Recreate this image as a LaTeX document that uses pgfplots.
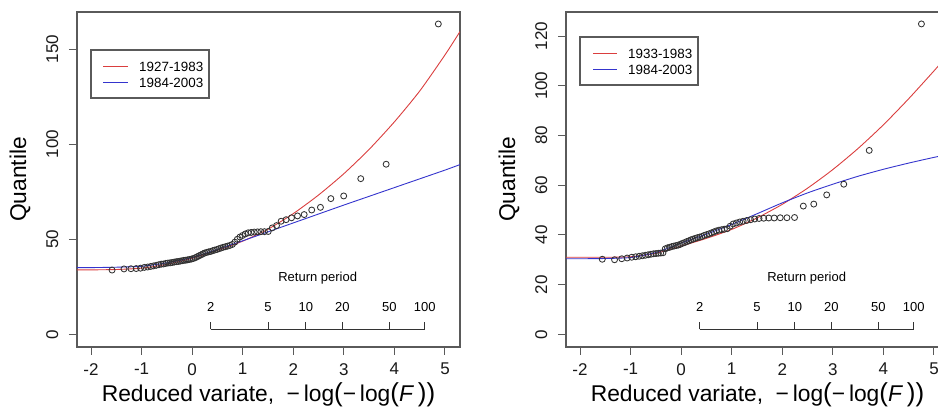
\documentclass[border=0pt]{standalone}
\usepackage{pgfplots}
\pgfplotsset{compat=1.18}
\usepackage{fontspec}
\setmainfont{Liberation Sans}

\definecolor{fitred}{RGB}{218,62,62}
\definecolor{fitblue}{RGB}{52,52,205}
\definecolor{framegray}{RGB}{90,90,90}
\definecolor{ptgray}{RGB}{50,50,50}

% empirical quantiles (Gringorten positions on the Gumbel reduced variate)
\pgfplotstableread{
x y
-1.5835 33.8
-1.3475 34.4
-1.2097 34.5
-1.1061 34.6
-1.0206 34.8
-0.9465 35.2
-0.8801 35.4
-0.8194 35.7
-0.7631 36.0
-0.7103 36.3
-0.6601 36.6
-0.6122 36.9
-0.5662 37.0
-0.5218 37.3
-0.4786 37.5
-0.4366 37.6
-0.3955 37.8
-0.3552 38.0
-0.3156 38.2
-0.2766 38.3
-0.2381 38.5
-0.2000 38.7
-0.1622 38.9
-0.1246 39.0
-0.0871 39.2
-0.0498 39.4
-0.0126 39.6
0.0246 39.9
0.0618 40.3
0.0991 40.8
0.1365 41.3
0.1741 41.8
0.2119 42.3
0.2500 42.8
0.2885 43.1
0.3273 43.4
0.3665 43.6
0.4063 44.0
0.4466 44.3
0.4873 44.6
0.5288 45.0
0.5710 45.4
0.6140 45.8
0.6578 46.1
0.7026 46.4
0.7485 46.8
0.7954 47.3
0.8438 48.5
0.8933 50.0
0.9444 51.2
0.9972 52.0
1.0515 52.8
1.1080 53.4
1.1669 53.6
1.2282 53.8
1.2924 53.9
1.3594 54.0
1.4300 54.0
1.5050 54.1
1.5843 56.0
1.6688 57.2
1.7597 59.5
1.8579 60.3
1.9654 61.3
2.0834 62.3
2.2154 63.0
2.3645 65.4
2.5371 66.8
2.7428 71.4
2.9970 72.8
3.3343 81.9
3.8366 89.5
4.8681 163.3
}\obsA

\pgfplotstableread{
x y
-1.5594 30.2
-1.3169 30.0
-1.1744 30.4
-1.0670 30.7
-0.9779 31.0
-0.9004 31.2
-0.8308 31.4
-0.7670 31.6
-0.7076 31.8
-0.6516 32.0
-0.5984 32.2
-0.5474 32.4
-0.4982 32.5
-0.4505 32.6
-0.4041 32.7
-0.3587 32.8
-0.3142 34.4
-0.2705 34.8
-0.2273 35.0
-0.1847 35.3
-0.1423 35.5
-0.1003 35.7
-0.0583 35.9
-0.0166 36.2
0.0252 36.6
0.0670 36.9
0.1089 37.3
0.1509 37.6
0.1932 38.0
0.2360 38.3
0.2789 38.6
0.3224 38.9
0.3665 39.1
0.4113 39.4
0.4565 39.8
0.5026 40.1
0.5493 40.4
0.5973 40.8
0.6463 41.2
0.6963 41.6
0.7477 41.9
0.8005 42.1
0.8549 42.3
0.9110 42.5
0.9692 43.5
1.0295 44.4
1.0921 44.8
1.1577 45.2
1.2262 45.5
1.2979 45.8
1.3740 46.1
1.4546 46.4
1.5404 46.6
1.6327 46.7
1.7322 46.8
1.8401 46.8
1.9597 46.9
2.0923 46.9
2.2425 47.0
2.4159 51.6
2.6228 52.4
2.8785 56.1
3.2161 60.4
3.7193 74.0
4.7517 124.9
}\obsB

\tikzset{
  rpline/.style={black!80, line width=0.9pt},
  rplabel/.style={font=\fontsize{13}{15}\selectfont},
  tl/.style={font=\fontsize{17}{19}\selectfont, inner sep=0pt, text=black!90},
  xtl/.style={tl, anchor=north, yshift=-16pt},
  ytl/.style={tl, xshift=-18.5pt, rotate=90, anchor=south},
  axlab/.style={font=\fontsize{22.8}{26}\selectfont},
}

\pgfplotsset{
  gumbelaxis/.style={
    anchor=south west, scale only axis, width=383pt, height=335pt,
    xmin=-2.277, xmax=5.297, clip mode=individual,
    axis line style={framegray, line width=1.1pt},
    tick style={framegray, line width=1.0pt},
    tick align=outside, major tick length=8pt,
    xtick pos=bottom, ytick pos=left,
    xtick={-2,-1,0,1,2,3,4,5},
    xticklabels={}, yticklabels={},
  },
  fitline/.style={line width=0.9pt, smooth, tension=0.4},
  obs/.style={only marks, mark=o, mark size=3.0pt, mark options={ptgray, line width=0.85pt}},
}

\newcommand\gumbelframe[1]{%
  % tick labels and axis titles (#1 = lower y limit)
  \node[xtl] at (axis cs:-2,#1) {-2};
  \node[xtl] at (axis cs:-1,#1) {-1};
  \node[xtl] at (axis cs:0,#1) {0};
  \node[xtl] at (axis cs:1,#1) {1};
  \node[xtl] at (axis cs:2,#1) {2};
  \node[xtl] at (axis cs:3,#1) {3};
  \node[xtl] at (axis cs:4,#1) {4};
  \node[xtl] at (axis cs:5,#1) {5};
  \node[axlab, anchor=center, yshift=-48pt] at (axis description cs:0.5,0)
    {Reduced variate,\hspace{0.55em}−\,log{\fontsize{26}{26}\selectfont(}−\,log{\fontsize{26}{26}\selectfont(}\textit{F}\,{\fontsize{26}{26}\selectfont))}};
  \node[axlab, xshift=-57pt, rotate=90, anchor=center] at (axis description cs:0,0.5) {Quantile};
}

\begin{document}
\begin{tikzpicture}[x=1pt, y=1pt]
\clip[use as bounding box] (0,0) rectangle (938,411);

% ---------------- left panel ----------------
\begin{axis}[gumbelaxis, at={(77pt,64pt)},
  ymin=-6.68, ymax=169.6, ytick={0,50,100,150}]
\addplot[fitline, fitred] coordinates {
(-2.277,33.9) (-2.0,33.9) (-1.5,34.1) (-1.0,34.8) (-0.5,36.8) (0,40.0) (0.5,44.2)
(1.0,49.0) (1.5,55.3) (2.0,63.5) (2.5,73.3) (3.0,84.5) (3.5,97.3) (4.0,111.8)
(4.5,128.0) (5.0,147.0) (5.297,159.3)};
\addplot[fitline, fitblue] coordinates {
(-2.277,35.1) (-2.0,35.1) (-1.5,35.3) (-1.0,35.8) (-0.5,37.6) (0,40.4) (0.5,44.7)
(1.0,49.2) (1.5,53.9) (2.0,58.6) (2.5,63.3) (3.0,68.0) (3.5,72.6) (4.0,77.2)
(4.5,81.8) (5.0,86.4) (5.297,89.3)};
\addplot[obs] table[x=x, y=y] {\obsA};
\gumbelframe{-6.68}
\node[ytl] at (axis cs:-2.277,0) {0};
\node[ytl] at (axis cs:-2.277,50) {50};
\node[ytl] at (axis cs:-2.277,100) {100};
\node[ytl] at (axis cs:-2.277,150) {150};
% return-period scale
\node[rplabel] at (axis cs:2.483,29.6) {Return period};
\draw[rpline] (axis cs:0.3665,2.63) -- (axis cs:4.6001,2.63);
\draw[rpline] (axis cs:0.3665,2.63) -- (axis cs:0.3665,6.63);
\draw[rpline] (axis cs:1.4999,2.63) -- (axis cs:1.4999,6.63);
\draw[rpline] (axis cs:2.2504,2.63) -- (axis cs:2.2504,6.63);
\draw[rpline] (axis cs:2.9702,2.63) -- (axis cs:2.9702,6.63);
\draw[rpline] (axis cs:3.9019,2.63) -- (axis cs:3.9019,6.63);
\draw[rpline] (axis cs:4.6001,2.63) -- (axis cs:4.6001,6.63);
\node[rplabel] at (axis cs:0.3665,14.5) {2};
\node[rplabel] at (axis cs:1.4999,14.5) {5};
\node[rplabel] at (axis cs:2.2504,14.5) {10};
\node[rplabel] at (axis cs:2.9702,14.5) {20};
\node[rplabel] at (axis cs:3.9019,14.5) {50};
\node[rplabel] at (axis cs:4.6001,14.5) {100};
\end{axis}

% ---------------- right panel ----------------
\begin{axis}[gumbelaxis, at={(566pt,64pt)},
  ymin=-5.11, ymax=129.7, ytick={0,20,40,60,80,100,120}]
\addplot[fitline, fitred] coordinates {
(-2.277,31.0) (-2.0,31.0) (-1.5,31.0) (-1.0,31.2) (-0.5,32.6) (0,35.5) (0.5,38.6)
(1.0,42.2) (1.5,46.8) (2.0,52.3) (2.5,58.8) (3.0,66.3) (3.5,74.8) (4.0,84.3)
(4.5,94.8) (5.0,106.0) (5.297,112.9)};
\addplot[fitline, fitblue] coordinates {
(-2.277,30.4) (-2.0,30.4) (-1.5,30.5) (-1.0,30.9) (-0.5,32.9) (0,36.7) (0.5,40.3)
(1.0,44.2) (1.5,48.5) (2.0,52.9) (2.5,56.9) (3.0,60.4) (3.5,63.6) (4.0,66.4)
(4.5,68.9) (5.0,71.2) (5.297,72.4)};
\addplot[obs] table[x=x, y=y] {\obsB};
\gumbelframe{-5.11}
\node[ytl] at (axis cs:-2.277,0) {0};
\node[ytl] at (axis cs:-2.277,20) {20};
\node[ytl] at (axis cs:-2.277,40) {40};
\node[ytl] at (axis cs:-2.277,60) {60};
\node[ytl] at (axis cs:-2.277,80) {80};
\node[ytl] at (axis cs:-2.277,100) {100};
\node[ytl] at (axis cs:-2.277,120) {120};
\node[rplabel] at (axis cs:2.483,22.7) {Return period};
\draw[rpline] (axis cs:0.3665,2.0) -- (axis cs:4.6001,2.0);
\draw[rpline] (axis cs:0.3665,2.0) -- (axis cs:0.3665,5.07);
\draw[rpline] (axis cs:1.4999,2.0) -- (axis cs:1.4999,5.07);
\draw[rpline] (axis cs:2.2504,2.0) -- (axis cs:2.2504,5.07);
\draw[rpline] (axis cs:2.9702,2.0) -- (axis cs:2.9702,5.07);
\draw[rpline] (axis cs:3.9019,2.0) -- (axis cs:3.9019,5.07);
\draw[rpline] (axis cs:4.6001,2.0) -- (axis cs:4.6001,5.07);
\node[rplabel] at (axis cs:0.3665,11.1) {2};
\node[rplabel] at (axis cs:1.4999,11.1) {5};
\node[rplabel] at (axis cs:2.2504,11.1) {10};
\node[rplabel] at (axis cs:2.9702,11.1) {20};
\node[rplabel] at (axis cs:3.9019,11.1) {50};
\node[rplabel] at (axis cs:4.6001,11.1) {100};
\end{axis}

% ---------------- legends ----------------
\begin{scope}[font=\fontsize{13.4}{16}\selectfont]
\draw[framegray, line width=1.1pt, fill=white] (91,313) rectangle (209,361);
\draw[fitred, line width=1.0pt] (103,344.5) -- (128,344.5);
\draw[fitblue, line width=1.0pt] (103,328.5) -- (128,328.5);
\node[anchor=west, inner sep=0pt] at (139,344) {1927-1983};
\node[anchor=west, inner sep=0pt] at (139,328) {1984-2003};

\draw[framegray, line width=1.1pt, fill=white] (580,326) rectangle (698,374);
\draw[fitred, line width=1.0pt] (593,357.5) -- (617,357.5);
\draw[fitblue, line width=1.0pt] (593,341.5) -- (617,341.5);
\node[anchor=west, inner sep=0pt] at (628,357) {1933-1983};
\node[anchor=west, inner sep=0pt] at (628,341) {1984-2003};
\end{scope}
\end{tikzpicture}
\end{document}
